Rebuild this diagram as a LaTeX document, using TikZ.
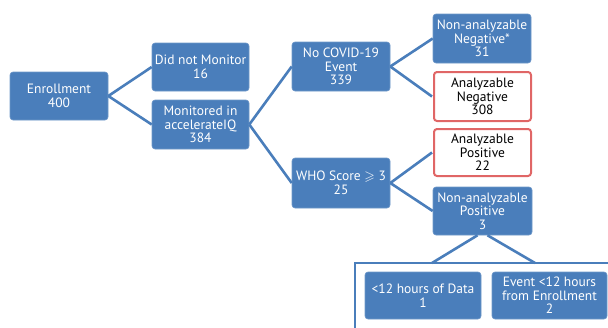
\documentclass[tikz,border=0pt]{standalone}
\usepackage{fontspec}
\usepackage{amssymb}
\setmainfont{PT Sans}
\definecolor{bfill}{HTML}{4A7EBB}
\definecolor{bline}{HTML}{4A7EBB}
\definecolor{redb}{HTML}{E06666}
\begin{document}
\begin{tikzpicture}[x=1pt,y=-1pt,
  box/.style={rounded corners=3pt, inner sep=0pt, align=center,
    font=\fontsize{13.5}{13.5}\selectfont},
  bluebox/.style={box, fill=bfill, draw=bfill!80!white, line width=0.6pt, text=white},
  redbox/.style={box, fill=white, draw=redb, line width=2pt, text=black},
  conn/.style={draw=bline, line width=2.6pt}]
\useasboundingbox (0,0) rectangle (608,327);
\begin{scope}
\clip (0,0) rectangle (608,327);
\node[bluebox, minimum width=98pt, minimum height=48pt] (enr) at (59,96) {Enrollment\\400};
\node[bluebox, minimum width=97pt, minimum height=48pt] (dnm) at (200.5,67) {Did not Monitor\\16};
\node[bluebox, minimum width=97pt, minimum height=49pt] (mon) at (200.5,124.5) {Monitored in\\accelerateIQ\\384};
\node[bluebox, minimum width=98pt, minimum height=49pt] (nocov) at (341,66.5) {No COVID-19\\Event\\339};
\node[bluebox, minimum width=98pt, minimum height=50pt] (who) at (341,183) {WHO Score $\geqslant$ 3\\25};
\node[bluebox, minimum width=98pt, minimum height=49pt] (nan) at (482,38.5) {Non-analyzable\\Negative*\\31};
\node[redbox, minimum width=97pt, minimum height=49pt] (an) at (482.5,96.5) {Analyzable\\Negative\\308};
\node[redbox, minimum width=97pt, minimum height=47pt] (ap) at (482.5,152.5) {Analyzable\\Positive\\22};
\node[bluebox, minimum width=99pt, minimum height=48pt] (nap) at (482.5,211) {Non-analyzable\\Positive\\3};
\draw[draw=bline, line width=2pt] (630,263) -- (355,263) -- (355,340);
\coordinate (cl) at (432,263);
\coordinate (cr) at (535,263);
\node[bluebox, minimum width=116pt, minimum height=47pt] (lt) at (423,295.5) {<12 hours of Data\\1};
\node[bluebox, minimum width=115pt, minimum height=47pt] (ev) at (549.5,295.5) {Event <12 hours\\from Enrollment\\2};
\draw[conn] (enr.east) -- (dnm.west);
\draw[conn] (enr.east) -- (mon.west);
\draw[conn] (mon.east) -- (nocov.west);
\draw[conn] (mon.east) -- (who.west);
\draw[conn] (nocov.east) -- (nan.west);
\draw[conn] (nocov.east) -- ([xshift=-1pt]an.west);
\draw[conn] (who.east) -- ([xshift=-1pt]ap.west);
\draw[conn] (who.east) -- (nap.west);
\draw[conn] ([xshift=-5pt]nap.south) -- (cl);
\draw[conn] ([xshift=5pt]nap.south) -- (cr);
\end{scope}
\end{tikzpicture}
\end{document}
